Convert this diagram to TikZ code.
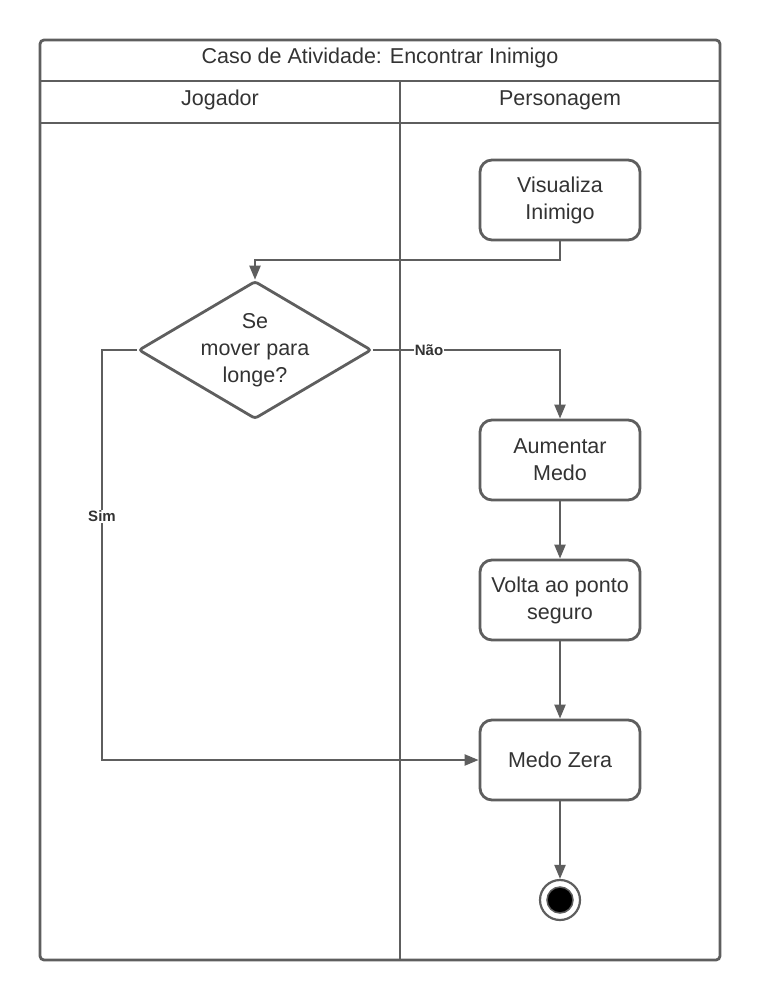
\documentclass[tikz,border=0pt]{standalone}
\usepackage{fontspec}
\setmainfont{Liberation Sans}
\usetikzlibrary{shapes.geometric,arrows.meta}
\definecolor{ln}{HTML}{5E5E5E}
\definecolor{tx}{HTML}{333333}
\begin{document}
\begin{tikzpicture}[x=1pt,y=-1pt,
  every node/.style={text=tx,font=\fontsize{21.5}{27}\selectfont},
  act/.style={draw=ln,line width=2.8pt,rounded corners=12pt,minimum width=160pt,minimum height=80pt,align=center,fill=white},
  dec/.style={draw=ln,line width=2.8pt,rounded corners=3pt,diamond,aspect=1.69,minimum width=230pt,minimum height=136pt,inner sep=0pt,align=center,fill=white},
  flow/.style={draw=ln,line width=2.2pt,-{Triangle[length=14pt,width=11pt]}},
  lane/.style={draw=ln,line width=2.8pt},
  lbl/.style={font=\bfseries\fontsize{15}{17}\selectfont,fill=white,inner sep=1pt}]
\useasboundingbox (0,0) rectangle (760,1000);
% swimlane frame
\draw[lane,rounded corners=4pt] (40,40) rectangle (720,960);
\draw[lane] (40,81) -- (720,81);
\draw[lane] (40,123) -- (720,123);
\draw[lane] (400,81) -- (400,960);
\node (title) at (380,58) {Caso de Atividade: Encontrar Inimigo};
\node (jog) at (220,100) {Jogador};
\node (per) at (560,100) {Personagem};
% activities
\node[act] (vis) at (560,200) {Visualiza\\Inimigo};
\node[dec] (q) at (255,350) {Se\\mover para\\longe?};
\node[act] (aum) at (560,460) {Aumentar\\Medo};
\node[act] (volta) at (560,600) {Volta ao ponto\\seguro};
\node[act] (zera) at (560,760) {Medo Zera};
% final node
\node[circle,draw=ln,line width=2.2pt,minimum size=40pt,inner sep=0pt] (fim) at (560,900) {};
\fill[black,draw=ln,line width=1.5pt] (fim.center) circle (13pt);
% connectors
\draw[flow] (vis.south) |- (255,260) -- (q.north);
\draw[flow] (q.east) -| node[lbl,pos=0.15] {Não} (aum.north);
\draw[flow] (q.west) -- (102,350) -- node[lbl,pos=0.405] {Sim} (102,760) -- (zera.west);
\draw[flow] (aum.south) -- (volta.north);
\draw[flow] (volta.south) -- (zera.north);
\draw[flow] (zera.south) -- (fim.north);
\end{tikzpicture}
\end{document}
